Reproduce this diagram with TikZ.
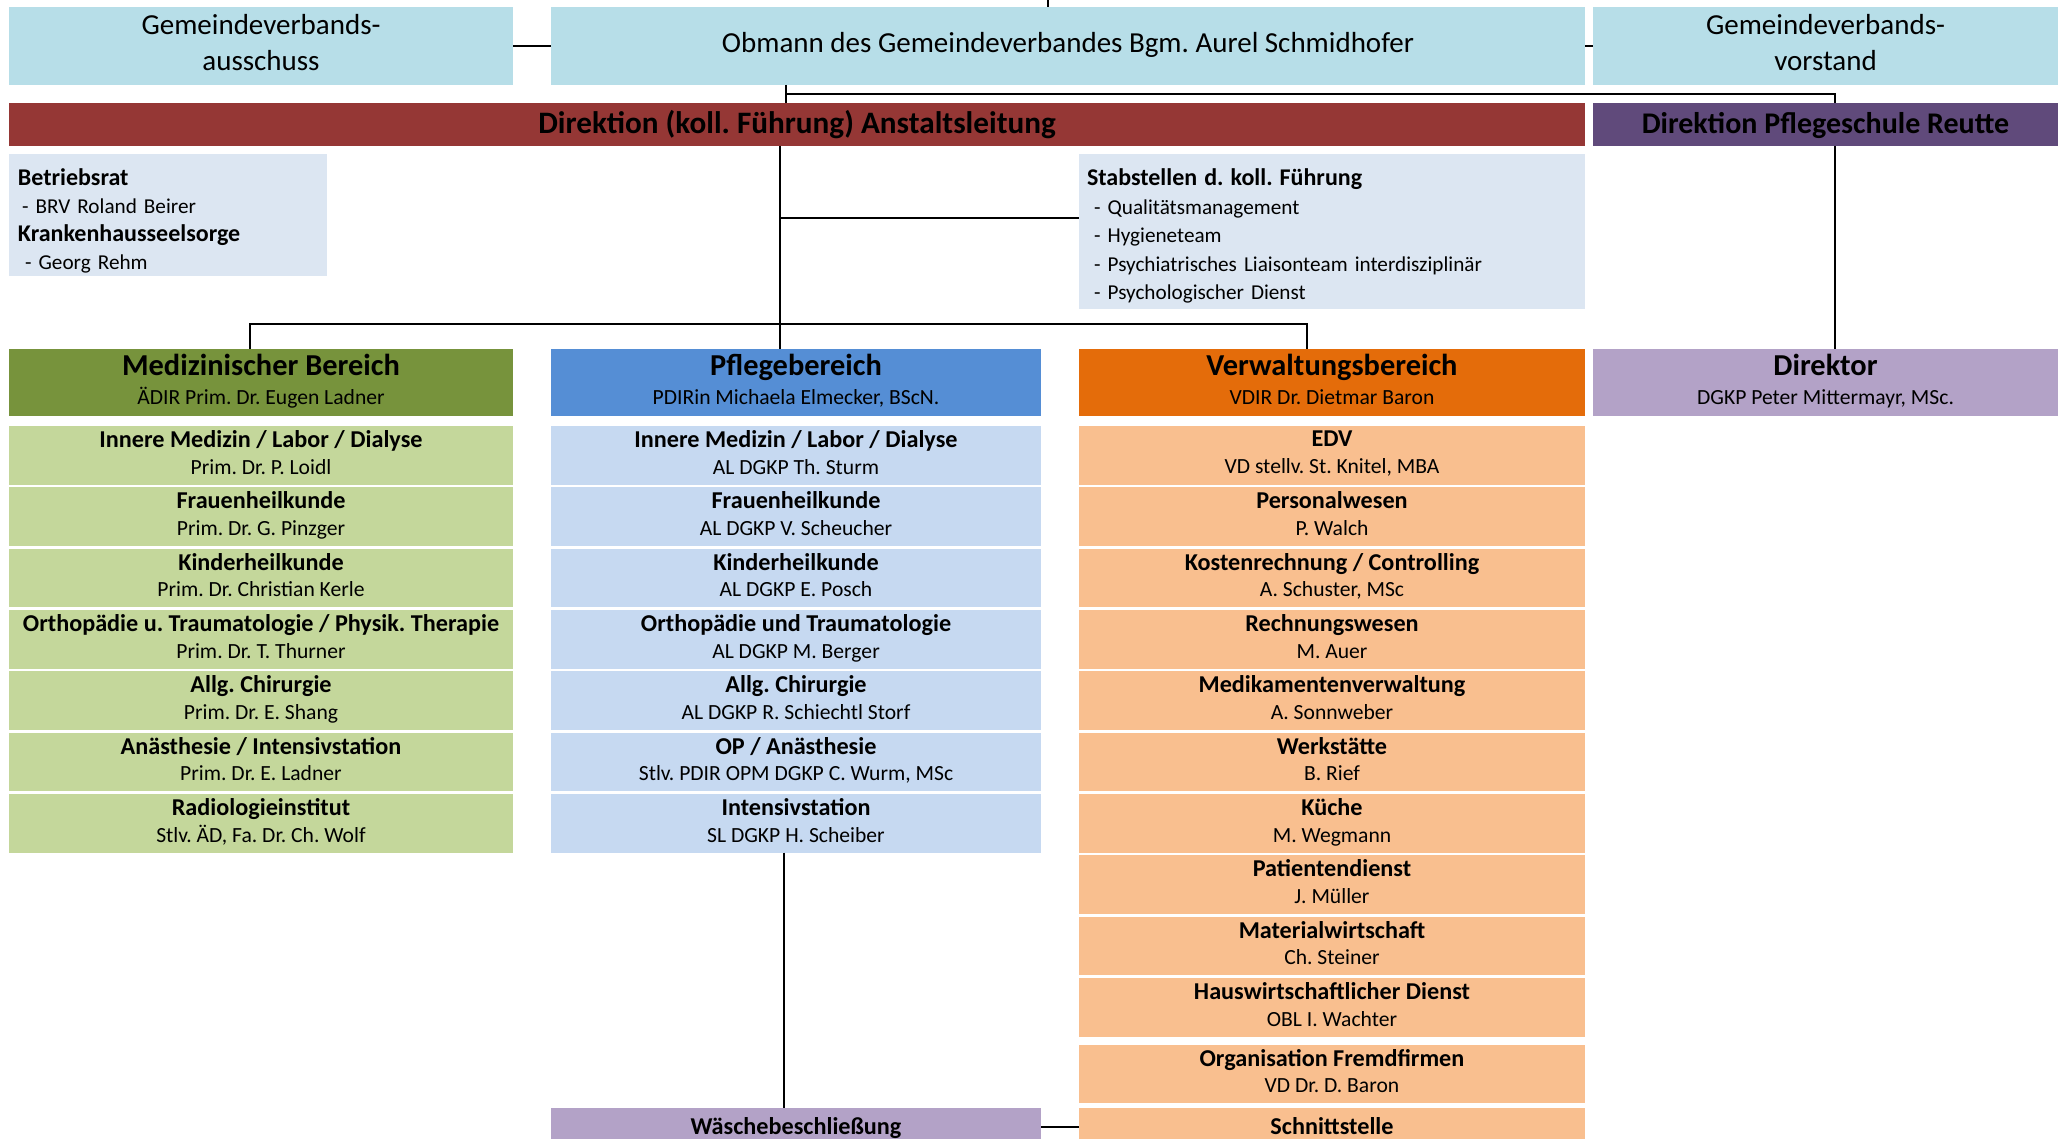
\documentclass[tikz,border=0pt]{standalone}
\usepackage{fontspec}
\setmainfont{Carlito}
\usetikzlibrary{positioning}

\definecolor{gvblue}{HTML}{B7DEE8}
\definecolor{dirred}{HTML}{953735}
\definecolor{schulpurple}{HTML}{604A7B}
\definecolor{infogray}{HTML}{DCE6F2}
\definecolor{meddark}{HTML}{77933C}
\definecolor{medlight}{HTML}{C4D79B}
\definecolor{pfldark}{HTML}{558ED5}
\definecolor{pfllight}{HTML}{C6D9F1}
\definecolor{verwdark}{HTML}{E46C0A}
\definecolor{verwlight}{HTML}{F9BF8F}
\definecolor{lavender}{HTML}{B3A2C7}

\newcommand{\unittitle}[1]{{\fontsize{12.1}{13.3}\selectfont\bfseries #1}}
\newcommand{\headtitle}[1]{{\fontsize{15.2}{14.2}\selectfont\bfseries #1}}
\newcommand{\infotitle}[1]{{\fontsize{12}{14}\selectfont\bfseries #1}}
\frenchspacing

\begin{document}
\begin{tikzpicture}[x=0.5pt,y=-0.5pt,
  struts/.style 2 args={execute at begin node={\rule{0pt}{#1}},execute at end node={\rule[-#2]{0pt}{0pt}}},
  box/.style={rectangle,inner sep=0pt,outer sep=0pt,align=center},
  topbox/.style={box,fill=gvblue,minimum height=39pt,font=\fontsize{14.5}{18.3}\selectfont},
  barbox/.style={box,minimum height=21.5pt,font=\fontsize{15}{16}\selectfont\bfseries,struts={13.5pt}{4.7pt}},
  infobox/.style={box,fill=infogray,align=left,inner xsep=4.5pt,font=\fontsize{10.6}{14}\selectfont},
  headbox/.style={box,minimum height=33.5pt,font=\fontsize{10.8}{14.2}\selectfont,struts={13.1pt}{3pt}},
  unitbox/.style={box,minimum height=29.25pt,font=\fontsize{10.8}{13.3}\selectfont,struts={11.7pt}{3pt}},
  endbox/.style={box,minimum height=19pt,font=\fontsize{12.1}{13.3}\selectfont\bfseries,struts={10pt}{2.5pt}},
  medunit/.style={unitbox,fill=medlight,minimum width=252pt},
  pflunit/.style={unitbox,fill=pfllight,minimum width=245pt},
  verwunit/.style={unitbox,fill=verwlight,minimum width=253pt},
  link/.style={draw=black,line width=1pt}]
\useasboundingbox (0,0) rectangle (2062,1139);
\clip (0,0) rectangle (2062,1139);

% Gemeindeverband
\node at (261,46)[topbox,struts={13pt}{3.5pt},minimum width=252pt](ausschuss){Gemeindeverbands-\\ausschuss};
\node at (1068,46)[topbox,struts={11pt}{4.3pt},minimum width=517pt](obmann){Obmann des Gemeindeverbandes Bgm. Aurel Schmidhofer};
\node at (1825.5,46)[topbox,struts={13pt}{3.5pt},minimum width=232.5pt](vorstand){Gemeindeverbands-\\vorstand};

% Direktion
\node at (797,124.5)[barbox,fill=dirred,minimum width=788pt,font=\fontsize{15.6}{16}\selectfont\bfseries](direktion){Direktion (koll. Führung) Anstaltsleitung};
\node at (1825.5,124.5)[barbox,fill=schulpurple,minimum width=232.5pt](schule){Direktion Pflegeschule Reutte};

% Stabstellen
\node at (168,215)[infobox,struts={16pt}{3pt},minimum width=159pt,minimum height=61pt,text width=150pt](betriebsrat){\infotitle{Betriebsrat}\\\hspace{2pt}- BRV Roland Beirer\\\infotitle{Krankenhausseelsorge}\\\ - Georg Rehm};
\node at (1332,231.5)[infobox,struts={14.3pt}{3pt},inner xsep=4pt,minimum width=253pt,minimum height=77.5pt,text width=245pt,font=\fontsize{10.6}{14.2}\selectfont](stab){\infotitle{Stabstellen d. koll. Führung}\\\ - Qualitätsmanagement\\\ - Hygieneteam\\\ - Psychiatrisches Liaisonteam interdisziplinär\\\ - Psychologischer Dienst};

% Bereiche
\node at (261,382.5)[headbox,fill=meddark,minimum width=252pt](med){\headtitle{Medizinischer Bereich}\\ÄDIR Prim. Dr. Eugen Ladner};
\node at (796,382.5)[headbox,fill=pfldark,minimum width=245pt](pflege){\headtitle{Pflegebereich}\\PDIRin Michaela Elmecker, BScN.};
\node at (1332,382.5)[headbox,fill=verwdark,minimum width=253pt](verw){\headtitle{Verwaltungsbereich}\\VDIR Dr. Dietmar Baron};
\node at (1825.5,382.5)[headbox,fill=lavender,minimum width=232.5pt](direktor){\headtitle{Direktor}\\DGKP Peter Mittermayr, MSc.};

% Medizinischer Bereich
\node at (261,455.3)[medunit](m1){\unittitle{Innere Medizin / Labor / Dialyse}\\Prim. Dr. P. Loidl};
\node at (261,516.6)[medunit](m2){\unittitle{Frauenheilkunde}\\Prim. Dr. G. Pinzger};
\node at (261,577.9)[medunit](m3){\unittitle{Kinderheilkunde}\\Prim. Dr. Christian Kerle};
\node at (261,639.3)[medunit](m4){\unittitle{Orthopädie u. Traumatologie / Physik. Therapie}\\Prim. Dr. T. Thurner};
\node at (261,700.6)[medunit](m5){\unittitle{Allg. Chirurgie}\\Prim. Dr. E. Shang};
\node at (261,761.9)[medunit](m6){\unittitle{Anästhesie / Intensivstation}\\Prim. Dr. E. Ladner};
\node at (261,823.3)[medunit](m7){\unittitle{Radiologieinstitut}\\Stlv. ÄD, Fa. Dr. Ch. Wolf};

% Pflegebereich
\node at (796,455.3)[pflunit](p1){\unittitle{Innere Medizin / Labor / Dialyse}\\AL DGKP Th. Sturm};
\node at (796,516.6)[pflunit](p2){\unittitle{Frauenheilkunde}\\AL DGKP V. Scheucher};
\node at (796,577.9)[pflunit](p3){\unittitle{Kinderheilkunde}\\AL DGKP E. Posch};
\node at (796,639.3)[pflunit](p4){\unittitle{Orthopädie und Traumatologie}\\AL DGKP M. Berger};
\node at (796,700.6)[pflunit](p5){\unittitle{Allg. Chirurgie}\\AL DGKP R. Schiechtl Storf};
\node at (796,761.9)[pflunit](p6){\unittitle{OP / Anästhesie}\\Stlv. PDIR OPM DGKP C. Wurm, MSc};
\node at (796,823.3)[pflunit](p7){\unittitle{Intensivstation}\\SL DGKP H. Scheiber};
\node at (796,1127)[endbox,fill=lavender,minimum width=245pt](waesche){Wäschebeschließung};

% Verwaltungsbereich
\node at (1332,455.3)[verwunit](v1){\unittitle{EDV}\\VD stellv. St. Knitel, MBA};
\node at (1332,516.6)[verwunit](v2){\unittitle{Personalwesen}\\P. Walch};
\node at (1332,577.9)[verwunit](v3){\unittitle{Kostenrechnung / Controlling}\\A. Schuster, MSc};
\node at (1332,639.3)[verwunit](v4){\unittitle{Rechnungswesen}\\M. Auer};
\node at (1332,700.6)[verwunit](v5){\unittitle{Medikamentenverwaltung}\\A. Sonnweber};
\node at (1332,761.9)[verwunit](v6){\unittitle{Werkstätte}\\B. Rief};
\node at (1332,823.3)[verwunit](v7){\unittitle{Küche}\\M. Wegmann};
\node at (1332,884.6)[verwunit](v8){\unittitle{Patientendienst}\\J. Müller};
\node at (1332,946)[verwunit](v9){\unittitle{Materialwirtschaft}\\Ch. Steiner};
\node at (1332,1007.5)[verwunit](v10){\unittitle{Hauswirtschaftlicher Dienst}\\OBL I. Wachter};
\node at (1332,1074)[verwunit](v11){\unittitle{Organisation Fremdfirmen}\\VD Dr. D. Baron};
\node at (1332,1127)[endbox,fill=verwlight,minimum width=253pt](schnitt){Schnittstelle};

% Verbindungen
\coordinate (top) at (1048,0);
\coordinate (j1) at (786,94);
\coordinate (j2) at (1835,94);
\coordinate (j3) at (780,218);
\coordinate (j4) at (250,324);
\coordinate (j5) at (1307,324);
\coordinate (j6) at (784,900);
\draw[link] (top) -- (top |- obmann.north);
\draw[link] (ausschuss.east) -- (obmann.west);
\draw[link] (obmann.east) -- (vorstand.west);
\draw[link] (j1 |- obmann.south) -- (j1 |- direktion.north);
\draw[link] (j1) -- (j2) -- (j2 |- schule.north);
\draw[link] (j2 |- schule.south) -- (j2 |- direktor.north);
\draw[link] (j3 |- direktion.south) -- (j3 |- pflege.north);
\draw[link] (j3) -- (j3 -| stab.west);
\draw[link] (j4 |- med.north) -- (j4) -- (j5) -- (j5 |- verw.north);
\draw[link] (j6 |- p7.south) -- (j6 |- waesche.north);
\draw[link] (waesche.east) -- (schnitt.west);
\end{tikzpicture}
\end{document}
